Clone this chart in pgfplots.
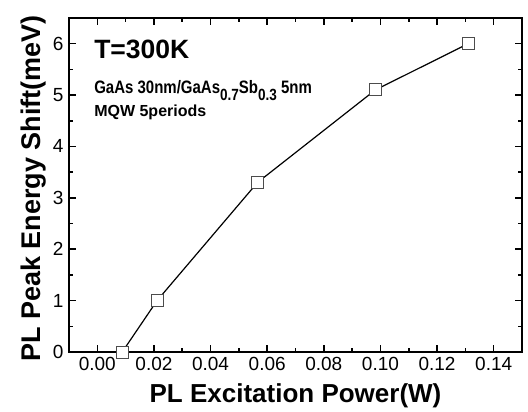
\documentclass[border=0pt]{standalone}
\usepackage{fontspec}
\setmainfont{Liberation Sans}
\usepackage{graphicx}
\usepackage{pgfplots}
\pgfplotsset{compat=1.18}
\newcommand{\sub}[1]{\raisebox{-6bp}{\fontsize{13.5bp}{13.5bp}\selectfont #1}}
\begin{document}
\begin{tikzpicture}
\useasboundingbox (-69bp,-60bp) rectangle (459bp,352bp);
\begin{axis}[
  at={(0,0)}, anchor=south west,
  scale only axis, width=453bp, height=334bp,
  xmin=-0.01, xmax=0.15, ymin=0, ymax=6.5,
  xtick={0,0.02,...,0.14}, ytick={0,1,...,6},
  minor x tick num=1, minor y tick num=1,
  tick align=inside, tick pos=both,
  major tick length=7bp, minor tick length=4bp,
  every tick/.style={black, line width=1.6bp},
  axis line style={line width=1.8bp},
  /pgf/number format/assume math mode=true,
  xticklabel style={/pgf/number format/.cd, fixed, fixed zerofill, precision=2, /tikz/.cd, font=\fontsize{19bp}{19bp}\selectfont, yshift=-2bp},
  yticklabel style={font=\fontsize{19bp}{19bp}\selectfont, xshift=-2bp},
  scaled x ticks=false,
  xlabel={\textbf{PL Excitation Power(W)}},
  ylabel={\textbf{PL Peak Energy Shift(meV)}},
  every axis x label/.style={at={(axis description cs:0.5,0)}, anchor=base, yshift=-50bp, font=\fontsize{26bp}{26bp}\selectfont},
  every axis y label/.style={at={(axis description cs:-0.064,0.49)}, rotate=90, anchor=base, font=\fontsize{27bp}{27bp}\selectfont},
]
\addplot[black, line width=1.2bp, mark=square*, mark size=6bp, mark options={fill=white, draw=black!70, line width=0.9bp}]
  coordinates {(0.0088,0) (0.0211,1) (0.0566,3.3) (0.0982,5.1) (0.131,6)};
\node[anchor=base west, font=\fontsize{26.5bp}{26.5bp}\selectfont\bfseries] at (rel axis cs:0.048,0.880) {T=300K};
\node[anchor=base west, font=\fontsize{15bp}{15bp}\selectfont\bfseries] at (rel axis cs:0.048,0.775) {\scalebox{1}[1.2]{GaAs 30nm/GaAs\sub{0.7}Sb\sub{0.3} 5nm}};
\node[anchor=base west, font=\fontsize{16bp}{16bp}\selectfont\bfseries] at (rel axis cs:0.048,0.704) {MQW 5periods};
\end{axis}
\end{tikzpicture}
\end{document}
